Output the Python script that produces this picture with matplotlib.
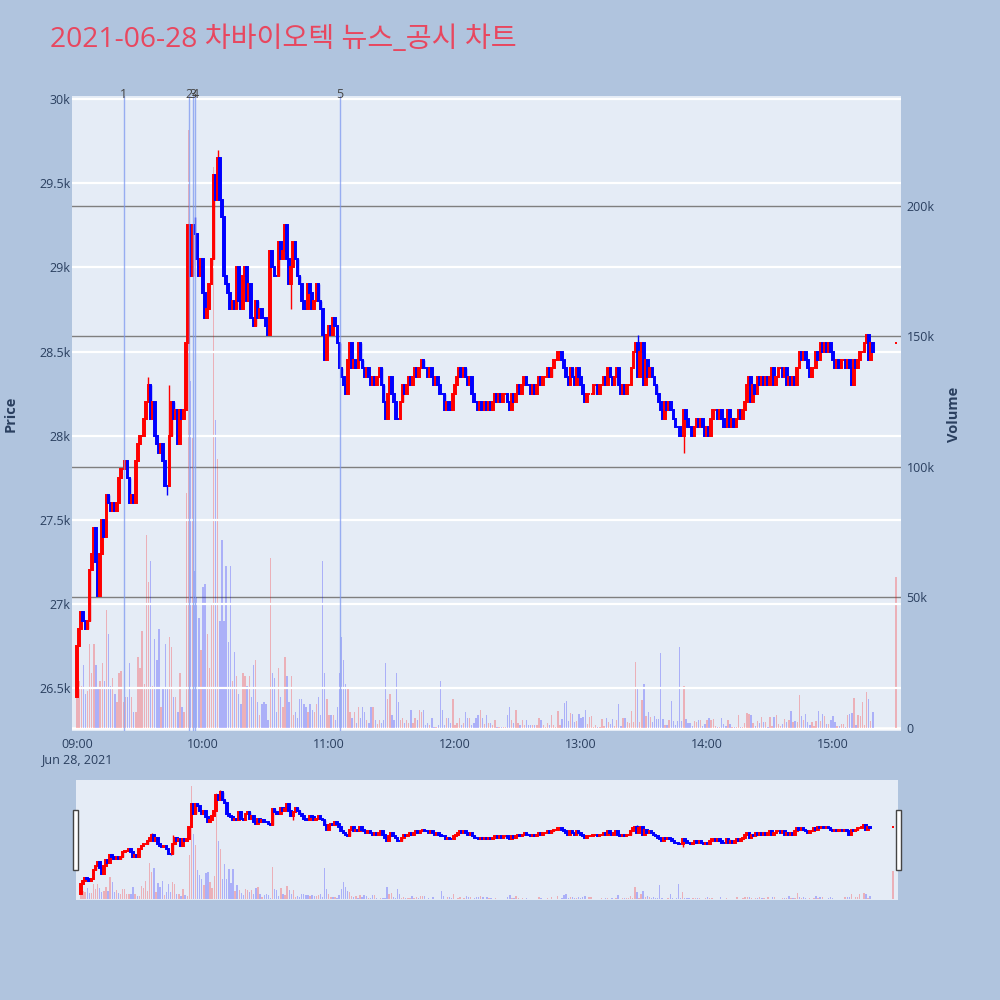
import matplotlib
matplotlib.use('Agg')
import matplotlib.pyplot as plt
import matplotlib.dates as mdates
import matplotlib.transforms as mtransforms
from matplotlib.patches import Rectangle
import numpy as np
import pandas as pd

plt.rcParams['font.family'] = ['Open Sans', 'Noto Sans CJK KR', 'DejaVu Sans']

# ---------------- data ----------------
TRADE_DATE = '2021-06-28'
TITLE = '2021-06-28 차바이오텍 뉴스_공시 차트'
first_open = 26450

closes = [
    26750, 26850, 26950, 26900, 26850, 26900, 27200, 27300, 27450, 27250,
    27050, 27300, 27500, 27400, 27650, 27600, 27550, 27600, 27550, 27600,
    27750, 27800, 27800, 27850, 27750, 27600, 27650, 27600, 27850, 27950,
    28000, 28000, 28100, 28200, 28300, 28100, 28200, 28000, 27950, 27900,
    27950, 27850, 27700, 27700, 28000, 28200, 28100, 28150, 27950, 28150,
    28100, 28150, 28550, 29250, 28950, 29250, 29200, 29050, 28950, 29050,
    28850, 28700, 28750, 28900, 29050, 29550, 29400, 29650, 29400, 29300,
    28950, 28900, 28850, 28750, 28800, 28750, 29000, 28800, 28750, 28950,
    29000, 28800, 28900, 28700, 28650, 28800, 28700, 28750, 28700, 28700,
    28650, 28600, 29100, 29000, 28950, 28950, 29150, 29050, 29100, 29250,
    29050, 28900, 29000, 29150, 29050, 28950, 28900, 28800, 28750, 28750,
    28900, 28850, 28750, 28800, 28900, 28800, 28750, 28600, 28450, 28600,
    28650, 28600, 28700, 28650, 28550, 28400, 28350, 28300, 28250, 28450,
    28550, 28400, 28450, 28400, 28550, 28450, 28400, 28350, 28400, 28350,
    28300, 28350, 28300, 28350, 28400, 28300, 28200, 28100, 28250, 28350,
    28250, 28200, 28100, 28100, 28200, 28300, 28250, 28300, 28350, 28300,
    28350, 28400, 28350, 28400, 28450, 28400, 28400, 28350, 28400, 28350,
    28300, 28350, 28300, 28250, 28250, 28150, 28200, 28150, 28150, 28250,
    28300, 28350, 28400, 28350, 28400, 28350, 28300, 28350, 28250, 28200,
    28200, 28150, 28200, 28150, 28200, 28150, 28200, 28150, 28200, 28250,
    28200, 28250, 28200, 28250, 28250, 28200, 28150, 28250, 28200, 28250,
    28300, 28250, 28300, 28350, 28300, 28300, 28250, 28300, 28250, 28300,
    28350, 28300, 28350, 28350, 28400, 28350, 28400, 28450, 28450, 28500,
    28500, 28450, 28400, 28350, 28300, 28400, 28350, 28300, 28400, 28350,
    28300, 28250, 28200, 28250, 28250, 28250, 28300, 28300, 28250, 28300,
    28300, 28350, 28300, 28400, 28350, 28300, 28350, 28400, 28300, 28250,
    28300, 28250, 28300, 28300, 28400, 28500, 28550, 28350, 28500, 28550,
    28300, 28450, 28350, 28400, 28350, 28300, 28250, 28200, 28150, 28100,
    28200, 28150, 28200, 28150, 28100, 28050, 28050, 28000, 28000, 28150,
    28100, 28050, 28050, 28000, 28050, 28100, 28050, 28100, 28050, 28000,
    28050, 28000, 28100, 28150, 28150, 28100, 28150, 28100, 28050, 28050,
    28150, 28050, 28100, 28050, 28100, 28150, 28100, 28150, 28200, 28300,
    28350, 28200, 28300, 28250, 28350, 28300, 28350, 28300, 28350, 28300,
    28350, 28400, 28300, 28350, 28400, 28400, 28350, 28400, 28300, 28350,
    28300, 28350, 28300, 28400, 28500, 28450, 28500, 28450, 28400, 28350,
    28400, 28400, 28500, 28450, 28550, 28500, 28550, 28500, 28550, 28500,
    28450, 28400, 28450, 28400, 28450, 28450, 28400, 28450, 28400, 28300,
    28450, 28400, 28450, 28500, 28500, 28550, 28600, 28450, 28550, 28500,
]

volumes_k = [
    30, 18, 16, 24, 13, 14, 32, 21, 32, 24,
    15, 18, 25, 18, 45, 36, 16, 19, 13, 10,
    21, 22, 10, 12, 12, 25, 12, 6, 6, 27,
    23, 37, 17, 74, 56, 64, 16, 34, 26, 38,
    8, 15, 32, 15, 35, 31, 12, 12, 6, 21,
    8, 6, 90, 229, 133, 111, 60, 50, 42, 30,
    54, 55, 36, 23, 48, 215, 118, 103, 41, 72,
    41, 62, 33, 62, 18, 29, 20, 13, 9, 21,
    20, 16, 20, 12, 24, 26, 10, 5, 9, 10,
    9, 3, 65, 21, 19, 6, 23, 12, 8, 27,
    20, 10, 20, 5, 6, 4, 11, 11, 9, 8,
    6, 9, 7, 6, 9, 12, 5, 64, 21, 11,
    5, 5, 5, 3, 8, 21, 35, 26, 17, 15,
    6, 4, 6, 2, 8, 4, 8, 6, 3, 2,
    8, 8, 3, 1.5, 3, 2, 3, 25, 11, 13,
    5, 3, 21, 10, 3, 4, 2, 3, 2, 7,
    2, 4, 3, 7, 6, 7, 1, 2, 1, 4,
    0.5, 0.5, 1, 18, 7, 1, 4, 4, 2, 11,
    1, 2, 4, 1, 2, 6, 4, 4, 1, 2,
    4, 5, 7, 4, 1.5, 5, 2, 2, 1, 3,
    0.5, 0.5, 0.5, 0.5, 0.5, 5, 8, 3, 2, 7,
    2, 1, 3, 1, 3, 1, 1, 1, 1, 1,
    4, 3, 1, 0.5, 2, 1, 5.1, 1, 0.5, 6.4,
    1.3, 3.4, 9.6, 10.2, 2.6, 5.7, 5.4, 2.3, 2.8, 5.4,
    3.8, 4.2, 7, 1.5, 4.2, 4.7, 0.4, 1.3, 0.3, 0.3,
    3.4, 0.6, 3.8, 2.3, 1.5, 3.4, 0.6, 2.9, 9.3, 0.9,
    3.8, 3.8, 2.3, 1.9, 6.6, 2.2, 25.2, 15.7, 2.3, 10.9,
    17, 4.7, 6, 4.2, 2.2, 4.7, 3.4, 3.6, 28.7, 3.6,
    1, 1, 2.9, 10.5, 2.6, 1, 2.6, 31, 2.8, 16,
    3.6, 1.9, 1.9, 0.6, 2.6, 2.3, 3.2, 3.2, 0.9, 1.7,
    3.2, 4, 2.9, 3.4, 0.6, 0.3, 0.3, 4, 1.5, 0.6,
    2.9, 1.5, 0.4, 0.4, 0.4, 5.1, 0.3, 0.3, 1.9, 5.7,
    5.4, 5.1, 1.9, 0.9, 2.8, 1.9, 4.2, 2.2, 2.3, 0.3,
    4.2, 0.9, 4.2, 5.1, 1.5, 0.9, 1.7, 3.4, 2.2, 3.2,
    6.4, 2.2, 2.6, 2.3, 12.8, 4.5, 3.2, 5.4, 2.3, 1,
    2.3, 0.6, 2.8, 6.6, 2.6, 5.4, 4.5, 1.5, 1.5, 3.2,
    4.5, 2.2, 0.6, 0.6, 1.5, 1.5, 0.3, 4.9, 5.5, 5.7,
    11.5, 1.3, 4.9, 4.5, 10, 1.3, 13.8, 11.1, 2.6, 6.1,
]

auction_time = '15:30'
auction_close = 28550
auction_volume_k = 57.7

wick_high_idx = [34, 44, 56, 67, 267]
wick_high_val = [28350, 28300, 29300, 29700, 28600]
wick_low_idx = [43, 102, 289]
wick_low_val = [27650, 28750, 27900]

news_times = ['09:22:10', '09:53:20', '09:55:10', '09:56:10', '11:05:10']
news_labels = ['1', '2', '3', '4', '5']

price_ticks = [26500, 27000, 27500, 28000, 28500, 29000, 29500, 30000]
price_tick_labels = ['26.5k', '27k', '27.5k', '28k', '28.5k', '29k', '29.5k', '30k']
volume_ticks = [0, 50000, 100000, 150000, 200000]
volume_tick_labels = ['0', '50k', '100k', '150k', '200k']
time_ticks = ['09:00', '10:00', '11:00', '12:00', '13:00', '14:00', '15:00']
first_tick_date_label = 'Jun 28, 2021'

# ---------------- derived series ----------------
n = min(len(closes), len(volumes_k))
closes = closes[:n]
volumes_k = volumes_k[:n]
times = pd.date_range(f'{TRADE_DATE} 09:00', periods=n, freq='min')
all_times = times.append(pd.DatetimeIndex([pd.Timestamp(f'{TRADE_DATE} {auction_time}')]))
x = mdates.date2num(all_times.to_pydatetime())
c = np.array(closes + [auction_close], dtype=float)
o = np.array([first_open] + closes[:-1] + [auction_close], dtype=float)
vol = np.array(volumes_k + [auction_volume_k], dtype=float) * 1000
hi = np.maximum(o, c)
lo = np.minimum(o, c)
for i, v in zip(wick_high_idx, wick_high_val):
    hi[i] = max(hi[i], v)
for i, v in zip(wick_low_idx, wick_low_val):
    lo[i] = min(lo[i], v)

inc = np.zeros(len(c), dtype=bool)
prev_col = True
for k in range(len(c)):
    if c[k] != o[k]:
        inc[k] = c[k] > o[k]
    else:
        pc = c[k - 1] if k > 0 else o[k]
        if pc < c[k]:
            inc[k] = True
        elif pc > c[k]:
            inc[k] = False
        else:
            inc[k] = prev_col
    prev_col = inc[k]

UP, DOWN = '#FF0000', '#0000FF'
cols = np.where(inc, UP, DOWN)

minute = 1.0 / 1440.0
xmin = x[0] - 2.4 * minute
xmax = x[-1] + 2.4 * minute
price_lim = (26246, 30018)
vol_lim = (-1150, 242000)

TXT = '#2a3f5f'
BG = '#B0C4DE'
PLOT_BG = '#E5ECF6'

fig = plt.figure(figsize=(10, 10), dpi=100, facecolor=BG)


def draw_series(ax_v, ax_p, lw_body):
    ax_v.bar(x, vol, width=0.65 * minute, color=[(1, 0, 0, 0.25) if u else (0, 0, 1, 0.25) for u in inc],
             linewidth=0, zorder=2)
    ax_p.vlines(x, lo, hi, colors=cols, linewidth=1.0, zorder=3)
    ax_p.bar(x, np.abs(c - o), bottom=np.minimum(o, c), width=0.8 * minute,
             color=cols, edgecolor=cols, linewidth=lw_body, zorder=4)


# ---------------- main chart ----------------
ax_vol = fig.add_axes([0.072, 0.269, 0.829, 0.635])
ax_vol.set_facecolor(PLOT_BG)
ax_price = ax_vol.twinx()

draw_series(ax_vol, ax_price, 1.4)

ax_vol.set_xlim(xmin, xmax)
ax_vol.set_ylim(*vol_lim)
ax_price.set_ylim(*price_lim)

for a in (ax_vol, ax_price):
    for s in a.spines.values():
        s.set_visible(False)

ax_vol.yaxis.tick_right()
ax_vol.set_yticks(volume_ticks)
ax_vol.set_yticklabels(volume_tick_labels)
ax_vol.yaxis.grid(True, color='#7f7f7f', linewidth=1.0)
ax_vol.set_axisbelow(True)
ax_vol.axhline(0, color='white', linewidth=2, zorder=1)
ax_vol.tick_params(axis='y', length=0, pad=4, labelsize=9, labelcolor=TXT)

ax_price.yaxis.tick_left()
ax_price.set_yticks(price_ticks)
ax_price.set_yticklabels(price_tick_labels)
ax_price.yaxis.grid(True, color='white', linewidth=1.6, zorder=0)
ax_price.set_axisbelow(True)
ax_price.tick_params(axis='y', length=0, pad=1, labelsize=9, labelcolor=TXT)

tick_x = mdates.date2num([pd.Timestamp(f'{TRADE_DATE} {t}').to_pydatetime() for t in time_ticks])
ax_vol.set_xticks(tick_x)
labels = list(time_ticks)
labels[0] = labels[0] + '\n' + first_tick_date_label
ax_vol.set_xticklabels(labels, linespacing=1.25)
ax_vol.tick_params(axis='x', length=0, pad=5, labelsize=9, labelcolor=TXT)
ax_price.tick_params(axis='x', length=0, labelbottom=False)

news_x = mdates.date2num([pd.Timestamp(f'{TRADE_DATE} {t}').to_pydatetime() for t in news_times])
trans = mtransforms.blended_transform_factory(ax_price.transData, ax_price.transAxes)
for nx, lab in zip(news_x, news_labels):
    ax_price.axvline(nx, color='#7d98f0', alpha=0.75, linewidth=1.0, zorder=5)
    ax_price.text(nx, 1.002, lab, transform=trans, ha='center', va='center',
                  fontsize=9, color='#444444', zorder=6, clip_on=False)

fig.text(0.011, 0.586, 'Price', rotation=90, ha='center', va='center',
         fontsize=10.5, fontweight='bold', color=TXT)
fig.text(0.954, 0.586, 'Volume', rotation=90, ha='center', va='center',
         fontsize=10.5, fontweight='bold', color=TXT)
fig.text(0.05, 0.96, TITLE, ha='left', va='center', fontsize=20.3, color='#E8475F')

# ---------------- range slider ----------------
ax_sv = fig.add_axes([0.076, 0.100, 0.822, 0.120])
ax_sv.set_facecolor(PLOT_BG)
ax_sp = ax_sv.twinx()
draw_series(ax_sv, ax_sp, 1.4)
ax_sv.set_xlim(xmin, xmax)
ax_sv.set_ylim(*vol_lim)
ax_sp.set_ylim(*price_lim)
for a in (ax_sv, ax_sp):
    a.set_xticks([])
    a.set_yticks([])
    for s in a.spines.values():
        s.set_visible(False)

for hx in (0.073, 0.896):
    fig.patches.append(Rectangle((hx, 0.130), 0.005, 0.060, transform=fig.transFigure,
                                 facecolor='white', edgecolor='#444444', linewidth=1.0))

fig.savefig('out.png', dpi=100, facecolor=BG)
